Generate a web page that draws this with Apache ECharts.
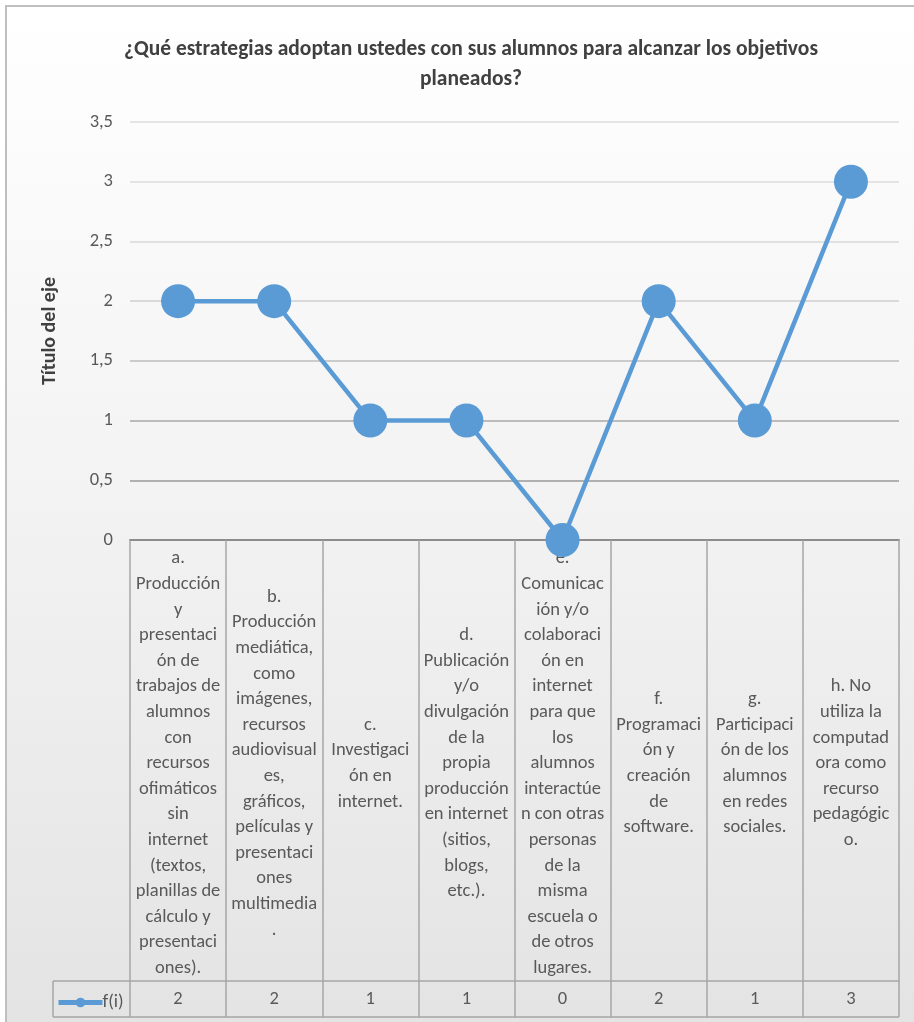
<!DOCTYPE html>
<html>
<head>
<meta charset="utf-8">
<script src="https://cdn.jsdelivr.net/npm/echarts@6/dist/echarts.min.js"></script>
<style>
  html, body { margin: 0; padding: 0; background: #ffffff; }
  #chart { width: 914px; height: 1022px; }
</style>
</head>
<body>
<div id="chart"></div>
<script>
// ---- Data ----
var titleText = '¿Qué estrategias adoptan ustedes con sus alumnos para alcanzar los objetivos\nplaneados?';
var yAxisTitle = 'Título del eje';
var seriesName = 'f(i)';
var categories = [
  'a.\nProducción\ny\npresentaci\nón de\ntrabajos de\nalumnos\ncon\nrecursos\nofimáticos\nsin\ninternet\n(textos,\nplanillas de\ncálculo y\npresentaci\nones).',
  'b.\nProducción\nmediática,\ncomo\nimágenes,\nrecursos\naudiovisual\nes,\ngráficos,\npelículas y\npresentaci\nones\nmultimedia\n.',
  'c.\nInvestigaci\nón en\ninternet.',
  'd.\nPublicación\ny/o\ndivulgación\nde la\npropia\nproducción\nen internet\n(sitios,\nblogs,\netc.).',
  'e.\nComunicac\nión y/o\ncolaboraci\nón en\ninternet\npara que\nlos\nalumnos\ninteractúe\nn con otras\npersonas\nde la\nmisma\nescuela o\nde otros\nlugares.',
  'f.\nProgramaci\nón y\ncreación\nde\nsoftware.',
  'g.\nParticipaci\nón de los\nalumnos\nen redes\nsociales.',
  'h. No\nutiliza la\ncomputad\nora como\nrecurso\npedagógic\no.'
];
var values = [2, 2, 1, 1, 0, 2, 1, 3];
var yMin = 0, yMax = 3.5, yInterval = 0.5;

// ---- Layout / style ----
var FONT = 'Carlito, Lato, "Open Sans", sans-serif';
var W = 914, H = 1022;
var gridLeft = 130, gridRight = 899, gridTop = 122, gridBottom = 540;
var catRowH = 441, valRowH = 36, legendCellLeft = 53;
var tableLine = '#a6a6a6';
var blue = '#5b9bd5';
var textGray = '#595959';

var chart = echarts.init(document.getElementById('chart'), null, { renderer: 'canvas' });

var option = {
  backgroundColor: '#ffffff',
  animation: false,
  title: {
    text: titleText,
    left: 466,
    textAlign: 'center',
    top: 30,
    textStyle: { fontFamily: FONT, fontWeight: 'bold', fontSize: 21.5, lineHeight: 30, color: '#404040' }
  },
  legend: {
    left: legendCellLeft - 2,
    top: gridBottom + catRowH + 7,
    itemWidth: 44,
    itemHeight: 12,
    itemGap: 2,
    lineStyle: { width: 5 },
    textStyle: { fontFamily: FONT, fontSize: 18.5, color: textGray, padding: [0, 0, 0, -5] },
    data: [seriesName]
  },
  graphic: [
    {
      type: 'rect', z: -10, silent: true,
      shape: { x: 6, y: 6, width: W + 10, height: H + 10 },
      style: {
        fill: new echarts.graphic.LinearGradient(0, 0, 0, 1, [
          { offset: 0, color: '#ffffff' },
          { offset: 0.5, color: '#f2f2f2' },
          { offset: 1, color: '#e3e3e3' }
        ]),
        stroke: '#bfbfbf', lineWidth: 2
      }
    },
    { type: 'line', silent: true, z: 5,
      shape: { x1: legendCellLeft, y1: gridBottom + catRowH + valRowH, x2: gridRight, y2: gridBottom + catRowH + valRowH },
      style: { stroke: tableLine, lineWidth: 1.5 } },
    { type: 'line', silent: true, z: 5,
      shape: { x1: legendCellLeft, y1: gridBottom + catRowH, x2: gridLeft, y2: gridBottom + catRowH },
      style: { stroke: tableLine, lineWidth: 1.5 } },
    { type: 'line', silent: true, z: 5,
      shape: { x1: legendCellLeft, y1: gridBottom + catRowH, x2: legendCellLeft, y2: gridBottom + catRowH + valRowH },
      style: { stroke: tableLine, lineWidth: 1.5 } }
  ],
  grid: {
    left: gridLeft,
    right: W - gridRight,
    top: gridTop,
    bottom: H - gridBottom,
    containLabel: false
  },
  xAxis: [
    {
      type: 'category',
      data: categories,
      boundaryGap: true,
      position: 'bottom',
      axisLine: { show: true, lineStyle: { color: '#8c8c8c', width: 2 } },
      axisTick: { show: true, interval: 0, length: catRowH + valRowH, lineStyle: { color: tableLine, width: 1.5 } },
      axisLabel: {
        interval: 0, margin: catRowH / 2 + 3, verticalAlign: 'middle', align: 'center',
        fontFamily: FONT, fontSize: 18.5, lineHeight: 25.6, color: textGray
      },
      splitLine: { show: false }
    },
    {
      type: 'category',
      data: values.map(function (v) { return String(v); }),
      boundaryGap: true,
      position: 'bottom',
      offset: catRowH,
      axisLine: { show: true, lineStyle: { color: tableLine, width: 1.5 } },
      axisTick: { show: false },
      axisLabel: {
        interval: 0, margin: valRowH / 2, verticalAlign: 'middle', align: 'center',
        fontFamily: FONT, fontSize: 18.5, color: textGray
      },
      splitLine: { show: false }
    }
  ],
  yAxis: {
    type: 'value',
    min: yMin, max: yMax, interval: yInterval,
    name: yAxisTitle,
    nameLocation: 'middle',
    nameRotate: 90,
    nameGap: 70,
    nameTextStyle: { fontFamily: FONT, fontWeight: 'bold', fontSize: 20, color: '#404040' },
    axisLine: { show: false },
    axisTick: { show: false },
    axisLabel: {
      margin: 17, fontFamily: FONT, fontSize: 18.5, color: textGray,
      formatter: function (v) { return String(v).replace('.', ','); }
    },
    splitLine: {
      show: true,
      lineStyle: { width: 1.5, color: ['#8c8c8c', '#9a9a9a', '#a8a8a8', '#bcbcbc', '#cfcfcf', '#d9d9d9', '#dcdcdc', '#dedede'] }
    }
  },
  series: [
    {
      name: seriesName,
      type: 'line',
      xAxisIndex: 0,
      data: values,
      symbol: 'circle',
      symbolSize: 34,
      clip: false,
      z: 10,
      lineStyle: { color: blue, width: 4.5 },
      itemStyle: { color: blue }
    }
  ]
};

chart.setOption(option);
</script>
</body>
</html>
